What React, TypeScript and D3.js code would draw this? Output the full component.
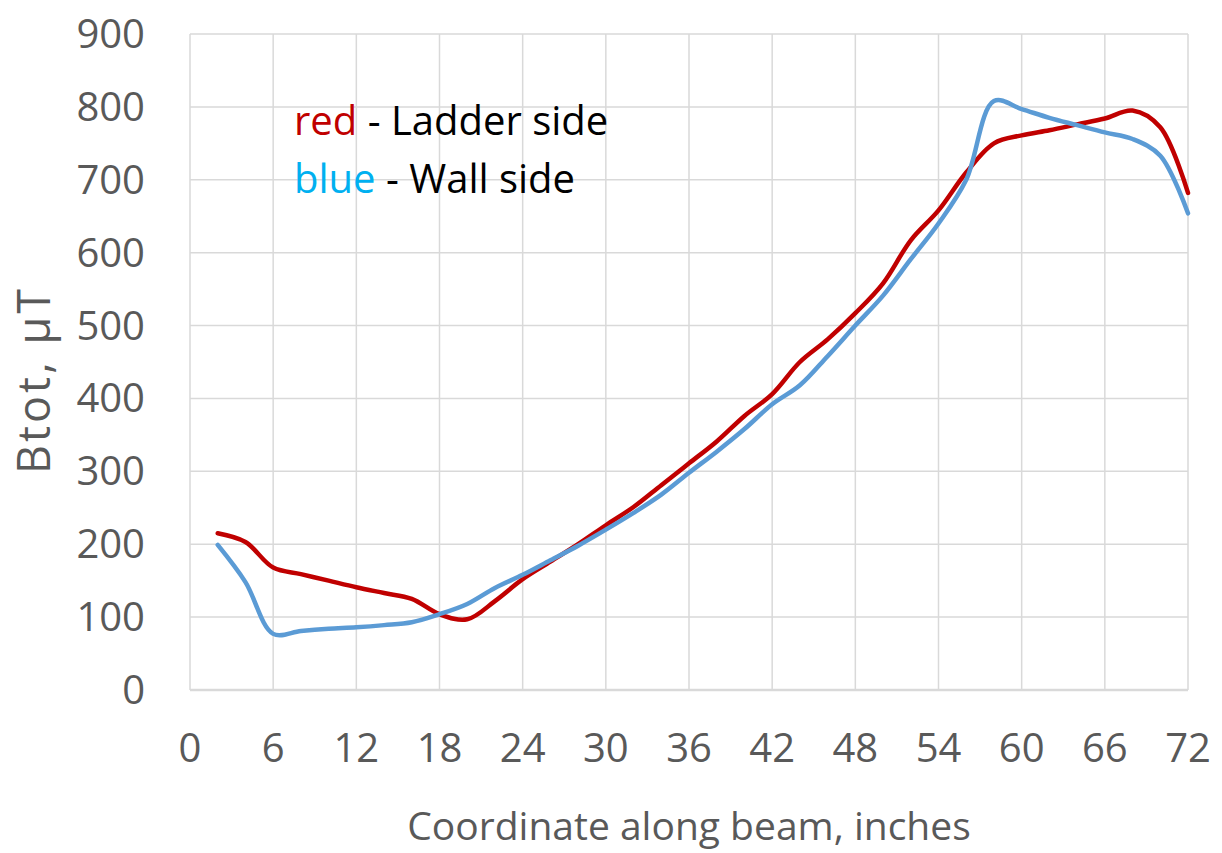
import React, { useRef, useEffect } from 'react'
import { select, scaleLinear, line, curveCatmullRom } from 'd3'

const coordinates = [2, 4, 6, 8, 10, 12, 14, 16, 18, 20, 22, 24, 26, 28, 30, 32, 34, 36,
    38, 40, 42, 44, 46, 48, 50, 52, 54, 56, 58, 60, 62, 64, 66, 68, 70, 72]

// red - ladder side
const ladderSide = [215, 203, 168, 159, 150, 141, 133, 125, 104, 97, 122, 152, 176, 200, 226, 251, 281, 311,
    341, 376, 406, 450, 481, 517, 558, 617, 658, 710, 750, 761, 768, 776, 784, 795, 772, 682]

// blue - wall side
const wallSide = [199, 148, 77, 81, 84, 86, 89, 93, 104, 118, 140, 158, 178, 198, 220, 243, 268, 298,
    327, 358, 392, 418, 458, 500, 541, 591, 640, 700, 808, 797, 785, 775, 765, 756, 733, 654]

const xTicks = [0, 6, 12, 18, 24, 30, 36, 42, 48, 54, 60, 66, 72]
const yTicks = [0, 100, 200, 300, 400, 500, 600, 700, 800, 900]

const W = 1222
const H = 853
const plot = { left: 190, right: 1188, top: 34, bottom: 690 }
const FONT = '"Open Sans", sans-serif'
const GREY = '#595959'

const App = () => {
    const chartRef = useRef<any>()

    useEffect(() => {
        const svg = select(chartRef.current)
        svg.selectAll('*').remove()

        const xScale = scaleLinear().domain([0, 72]).range([plot.left, plot.right])
        const yScale = scaleLinear().domain([0, 900]).range([plot.bottom, plot.top])

        // gridlines
        svg.append('g')
            .selectAll('line')
            .data(xTicks)
            .join('line')
            .attr('x1', d => xScale(d))
            .attr('x2', d => xScale(d))
            .attr('y1', plot.top)
            .attr('y2', plot.bottom)
            .attr('stroke', '#d9d9d9')
            .attr('stroke-width', 1.5)

        svg.append('g')
            .selectAll('line')
            .data(yTicks)
            .join('line')
            .attr('x1', plot.left)
            .attr('x2', plot.right)
            .attr('y1', d => yScale(d))
            .attr('y2', d => yScale(d))
            .attr('stroke', '#d9d9d9')
            .attr('stroke-width', d => (d === 0 ? 2.5 : 1.5))

        // tick labels
        svg.append('g')
            .selectAll('text')
            .data(yTicks)
            .join('text')
            .attr('x', 145)
            .attr('y', d => yScale(d) + 14)
            .attr('text-anchor', 'end')
            .attr('font-family', FONT)
            .attr('font-size', 40)
            .attr('fill', GREY)
            .text(d => d)

        svg.append('g')
            .selectAll('text')
            .data(xTicks)
            .join('text')
            .attr('x', d => xScale(d))
            .attr('y', 762)
            .attr('text-anchor', 'middle')
            .attr('font-family', FONT)
            .attr('font-size', 40)
            .attr('fill', GREY)
            .text(d => d)

        // axis titles
        svg.append('text')
            .attr('x', (plot.left + plot.right) / 2)
            .attr('y', 840)
            .attr('text-anchor', 'middle')
            .attr('font-family', FONT)
            .attr('font-size', 39)
            .attr('fill', GREY)
            .text('Coordinate along beam, inches')

        svg.append('text')
            .attr('transform', 'translate(50,380) rotate(-90)')
            .attr('text-anchor', 'middle')
            .attr('font-family', FONT)
            .attr('font-size', 45)
            .attr('letter-spacing', 3)
            .attr('fill', GREY)
            .text('Btot, µT')

        // the two curves
        const pathGen = line<number>()
            .x((d, i) => xScale(coordinates[i]))
            .y(d => yScale(d))
            .curve(curveCatmullRom.alpha(0.5))

        const series = [
            { values: ladderSide, color: '#c00000' },
            { values: wallSide, color: '#5b9bd5' },
        ]

        svg.append('g')
            .selectAll('path')
            .data(series)
            .join('path')
            .attr('d', d => pathGen(d.values))
            .attr('fill', 'none')
            .attr('stroke', d => d.color)
            .attr('stroke-width', 4.5)
            .attr('stroke-linejoin', 'round')
            .attr('stroke-linecap', 'round')

        // legend text inside the plot
        const legend = [
            { key: 'red', keyColor: '#c00000', rest: ' - Ladder side', y: 135 },
            { key: 'blue', keyColor: '#00b0f0', rest: ' - Wall side', y: 193 },
        ]
        const lg = svg.append('g')
            .selectAll('text')
            .data(legend)
            .join('text')
            .attr('x', 294)
            .attr('y', d => d.y)
            .attr('font-family', FONT)
            .attr('font-size', 40)
        lg.append('tspan').attr('fill', d => d.keyColor).text(d => d.key)
        lg.append('tspan').attr('fill', '#000').attr('xml:space', 'preserve').text(d => d.rest)
    }, [chartRef])

    return (
        <svg ref={chartRef} width={W} height={H}
            style={{ position: 'absolute', left: 0, top: 0, background: '#fff' }} />
    )
}

export default App
